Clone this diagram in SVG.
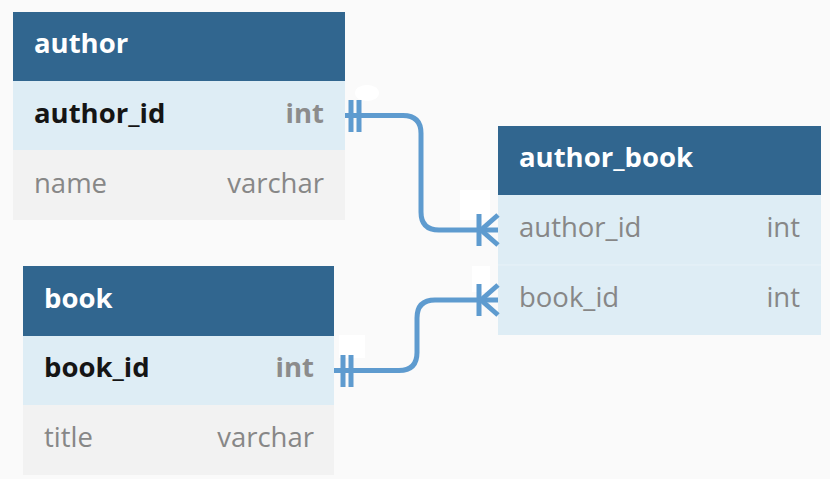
<svg xmlns="http://www.w3.org/2000/svg" width="830" height="479" viewBox="0 0 830 479">
<style>
.hdr{fill:#31668f}
.r1{fill:#deedf5}
.r2{fill:#f2f2f2}
text{font-family:"Open Sans","Noto Sans",sans-serif;font-size:27.5px}
.ht{fill:#ffffff;font-weight:bold}
.pk{fill:#151515;font-weight:bold}
.pkt{fill:#8c8c8c;font-weight:bold;text-anchor:end}
.f{fill:#878787}
.ft{fill:#878787;text-anchor:end}
.conn{fill:none;stroke:#5e9bcf;stroke-width:5;stroke-linecap:butt}
.lbl{fill:#ffffff}
</style>
<rect width="830" height="479" fill="#fafafa"/>
<g id="author">
<rect class="hdr" x="13" y="12" width="332" height="69"/>
<rect class="r1" x="13" y="81" width="332" height="69"/>
<rect class="r2" x="13" y="150" width="332" height="70"/>
<text class="ht" x="34" y="53">author</text>
<text class="pk" x="34" y="123">author_id</text>
<text class="pkt" x="324" y="123">int</text>
<text class="f" x="34" y="193">name</text>
<text class="ft" x="324" y="193">varchar</text>
</g>
<g id="book">
<rect class="hdr" x="23" y="266" width="311" height="70"/>
<rect class="r1" x="23" y="336" width="311" height="69"/>
<rect class="r2" x="23" y="405" width="311" height="70"/>
<text class="ht" x="44" y="308">book</text>
<text class="pk" x="44" y="377">book_id</text>
<text class="pkt" x="314" y="377">int</text>
<text class="f" x="44" y="447">title</text>
<text class="ft" x="314" y="447">varchar</text>
</g>
<g id="author_book">
<rect class="hdr" x="498" y="126" width="323" height="69"/>
<rect class="r1" x="498" y="195" width="323" height="70"/>
<rect class="r1" x="498" y="265" width="323" height="70"/>
<line x1="498" y1="265" x2="821" y2="265" stroke="#e8f2f8" stroke-width="1"/>
<text class="ht" x="519" y="167">author_book</text>
<text class="f" x="519" y="237">author_id</text>
<text class="ft" x="800" y="237">int</text>
<text class="f" x="519" y="307">book_id</text>
<text class="ft" x="800" y="307">int</text>
</g>
<g id="connectors">
<ellipse class="lbl" cx="367" cy="93" rx="12" ry="8"/>
<rect class="lbl" x="460" y="190" width="30" height="30"/>
<rect class="lbl" x="472" y="266" width="18" height="26"/>
<rect class="lbl" x="339" y="335" width="26" height="23"/>
<path class="conn" d="M345 115.5 H403 Q421 115.5 421 133.5 V212 Q421 230 439 230 H498"/>
<line class="conn" x1="351" y1="100" x2="351" y2="132"/>
<line class="conn" x1="359" y1="100" x2="359" y2="132"/>
<line class="conn" x1="479" y1="214" x2="479" y2="246"/>
<path class="conn" d="M498 215 L481 230 L498 245"/>
<path class="conn" d="M334 370.5 H399 Q417 370.5 417 352.5 V318 Q417 300 435 300 H498"/>
<line class="conn" x1="343" y1="355" x2="343" y2="387"/>
<line class="conn" x1="351" y1="355" x2="351" y2="387"/>
<line class="conn" x1="479" y1="284" x2="479" y2="316"/>
<path class="conn" d="M498 285 L481 300 L498 315"/>
</g>
</svg>
